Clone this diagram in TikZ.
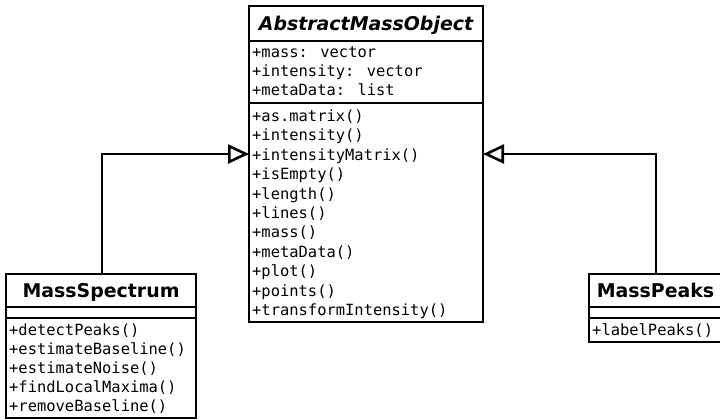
\documentclass[tikz,border=0pt]{standalone}
\usepackage{fontspec}
\usetikzlibrary{arrows.meta}
\newfontfamily\umlmono{DejaVu Sans Mono}
\newfontfamily\umlsans{DejaVu Sans}
\tikzset{
  umlline/.style={line width=2.6bp, draw=black},
  section/.style={umlline, rectangle, inner sep=0pt, outer sep=0pt, anchor=north west, fill=white},
  titlebox/.style={section, font=\umlsans\bfseries\fontsize{19}{23}\selectfont, text height=13.9bp, text depth=0pt},
  member/.style={font=\umlmono\fontsize{15.5}{19.4}\selectfont, anchor=base west, inner sep=0pt},
  inherit/.style={umlline, -{Triangle[open, length=21bp, width=19bp, line width=2.6bp]}},
}
\begin{document}
\begin{tikzpicture}[x=1bp, y=-1bp]
\clip (0,0) rectangle (720,419);
\fill[white] (0,0) rectangle (720,419);

% AbstractMassObject
\node[titlebox, minimum width=234bp, minimum height=35bp] (amoH) at (249,6) {\itshape AbstractMassObject};
\node[section, minimum width=234bp, minimum height=62bp] (amoA) at (amoH.south west) {};
\node[section, minimum width=234bp, minimum height=219bp] (amoM) at (amoA.south west) {};
\foreach \t [count=\i] in {+mass: vector, +intensity: vector, +metaData: list}
  \node[member] (amoA\i) at (252, {57+19.4*(\i-1)}) {\t};
\foreach \t [count=\i] in {+as.matrix(), +intensity(), +intensityMatrix(), +isEmpty(), +length(), +lines(), +mass(), +metaData(), +plot(), +points(), +transformIntensity()}
  \node[member] (amoM\i) at (252, {121.5+19.4*(\i-1)}) {\t};

% MassSpectrum
\node[titlebox, minimum width=190bp, minimum height=33bp] (msH) at (6,274) {MassSpectrum};
\node[section, minimum width=190bp, minimum height=11bp] (msA) at (msH.south west) {};
\node[section, minimum width=190bp, minimum height=100bp] (msM) at (msA.south west) {};
\foreach \t [count=\i] in {+detectPeaks(), +estimateBaseline(), +estimateNoise(), +findLocalMaxima(), +removeBaseline()}
  \node[member] (msM\i) at (9, {335+19.1*(\i-1)}) {\t};

% MassPeaks
\node[titlebox, minimum width=133bp, minimum height=33bp] (mpH) at (589,274) {MassPeaks};
\node[section, minimum width=133bp, minimum height=11bp] (mpA) at (mpH.south west) {};
\node[section, minimum width=133bp, minimum height=24bp] (mpM) at (mpA.south west) {};
\node[member] (mpM1) at (592,335) {+labelPeaks()};

% inheritance
\draw[inherit] ([xshift=96bp]msH.north west) |- ([yshift=-51bp]amoM.north west);
\draw[inherit] ([xshift=67bp]mpH.north west) |- ([yshift=-51bp]amoM.north east);
\end{tikzpicture}
\end{document}
